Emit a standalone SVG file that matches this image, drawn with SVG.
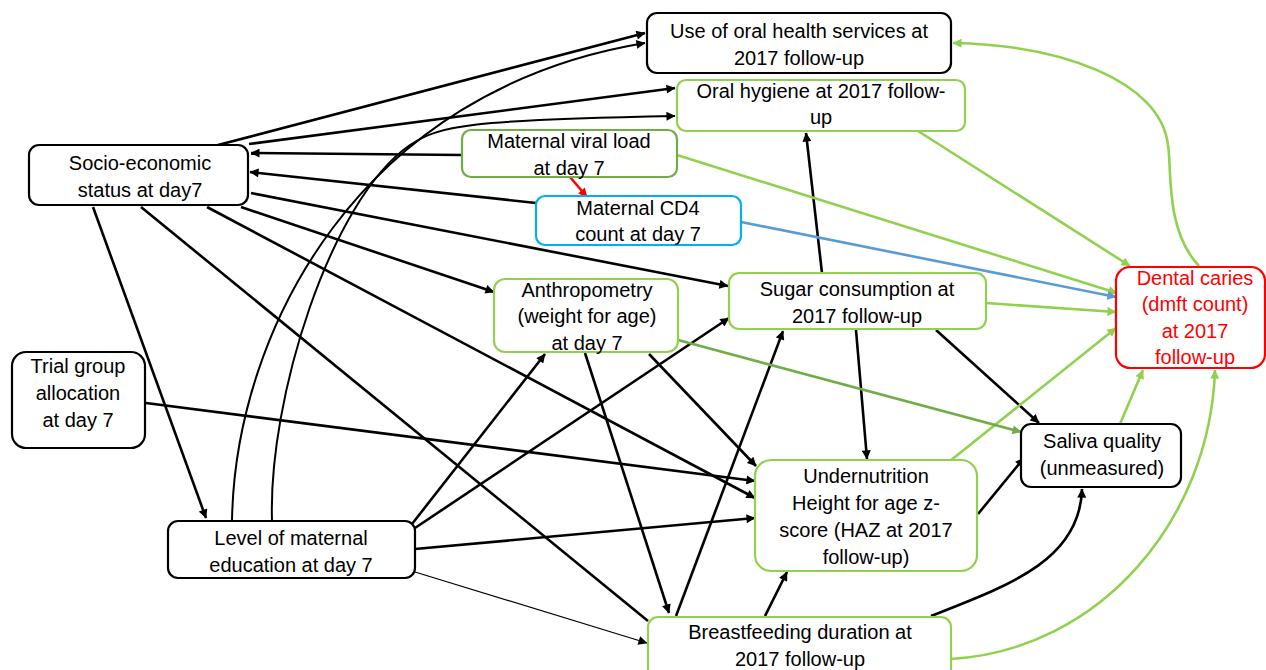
<svg xmlns="http://www.w3.org/2000/svg" width="1266" height="670" viewBox="0 0 1266 670">
<style>
.box{fill:#fff;stroke-width:2.2}
.k{stroke:#000}
.g{stroke:#92D050}
.gd{stroke:#70AD47}
.b{stroke:#00B0F0}
.r{stroke:#FF0000}
text{font-family:"Liberation Sans",Arial,sans-serif;font-size:20px;fill:#000;text-anchor:middle}
.red{fill:#FF0000}
.e{fill:none;stroke-width:2.6}
.ek{stroke:#000;marker-end:url(#ak)}
.eg{stroke:#92D050;marker-end:url(#ag)}
</style>
<defs>
<marker id="ak" viewBox="0 0 10 10" refX="9.5" refY="5" markerWidth="11" markerHeight="9" markerUnits="userSpaceOnUse" orient="auto"><path d="M0,0 L10,5 L0,10 z" fill="#000"/></marker>
<marker id="ag" viewBox="0 0 10 10" refX="9.5" refY="5" markerWidth="11" markerHeight="9" markerUnits="userSpaceOnUse" orient="auto"><path d="M0,0 L10,5 L0,10 z" fill="#92D050"/></marker>
<marker id="agd" viewBox="0 0 10 10" refX="9.5" refY="5" markerWidth="11" markerHeight="9" markerUnits="userSpaceOnUse" orient="auto"><path d="M0,0 L10,5 L0,10 z" fill="#70AD47"/></marker>
<marker id="ab" viewBox="0 0 10 10" refX="9.5" refY="5" markerWidth="11" markerHeight="9" markerUnits="userSpaceOnUse" orient="auto"><path d="M0,0 L10,5 L0,10 z" fill="#5B9BD5"/></marker>
<marker id="ar" viewBox="0 0 10 10" refX="9.5" refY="5" markerWidth="11" markerHeight="9" markerUnits="userSpaceOnUse" orient="auto"><path d="M0,0 L10,5 L0,10 z" fill="#FF0000"/></marker>
</defs>
<rect width="1266" height="670" fill="#fff"/>

<g id="connectors">
<path class="e ek" d="M218,145 L645,33"/>
<path class="e ek" d="M249,144 L675,88"/>
<path class="e ek" d="M232,521 C235,330 360,90 645,43" style="stroke-width:2"/>
<path class="e ek" d="M272,521 C268,400 330,200 410,145 C440,125 470,120 675,116" style="stroke-width:2"/>
<path class="e ek" d="M462,155 L251,153"/>
<path class="e ek" d="M536,203 L250,172"/>
<path class="e ek" d="M251,193 L728,286"/>
<path class="e ek" d="M241,207 L494,292"/>
<path class="e ek" d="M207,207 L755,498"/>
<path class="e" stroke="#000" d="M141,207 L648,621"/>
<path class="e ek" d="M93,207 L206,518"/>
<path class="e ek" d="M146,403 L755,481"/>
<path class="e ek" d="M415,549 L755,518"/>
<path class="e ek" d="M415,572 L647,643" style="stroke-width:1.2"/>
<path class="e ek" d="M412,524 L545,354"/>
<path class="e ek" d="M415,528 L729,318"/>
<path class="e ek" d="M585,353 L669,613"/>
<path class="e ek" d="M649,354 L756,466"/>
<path class="e ek" d="M676,616 L783,331"/>
<path class="e ek" d="M765,616 L787,572"/>
<path class="e ek" d="M931,616 C1010,585 1080,560 1082,489"/>
<path class="e ek" d="M822,273 L806,133"/>
<path class="e ek" d="M856,330 L867,459"/>
<path class="e ek" d="M936,330 L1039,423"/>
<path class="e ek" d="M978,514 L1024,458"/>

<path class="e eg" d="M918,131 L1130,266"/>
<path class="e eg" d="M677,155 L1117,293"/>
<path class="e eg" d="M986,303 L1116,312"/>
<path class="e eg" d="M950,461 L1116,328"/>
<path class="e eg" d="M1120,424 L1143,370"/>
<path class="e eg" d="M951,659 C1100,650 1210,520 1215,370"/>
<path class="e eg" d="M1199,266 C1165,230 1172,170 1168,145 C1160,80 1060,45 953,43"/>
<path class="e" stroke="#70AD47" marker-end="url(#agd)" d="M678,340 L1021,432"/>
<path class="e" stroke="#5B9BD5" marker-end="url(#ab)" d="M741,222 L1116,297"/>
<path class="e" stroke="#FF0000" marker-end="url(#ar)" d="M570,177 L587,197"/>
</g>

<g id="use">
<rect class="box k" x="647" y="13" width="304" height="60" rx="10"/>
<text x="799" y="38">Use of oral health services at</text>
<text x="799" y="65">2017 follow-up</text>
</g>
<g id="hygiene">
<rect class="box g" x="677" y="80" width="288" height="51" rx="9"/>
<text x="821" y="98">Oral hygiene at 2017 follow-</text>
<text x="821" y="124">up</text>
</g>
<g id="viral">
<rect class="box gd" x="462" y="130" width="215" height="47" rx="9"/>
<text x="569" y="148">Maternal viral load</text>
<text x="569" y="175">at day 7</text>
</g>
<g id="cd4">
<rect class="box b" x="536" y="196" width="205" height="49" rx="9"/>
<text x="638" y="215">Maternal CD4</text>
<text x="638" y="241">count at day 7</text>
</g>
<g id="ses">
<rect class="box k" x="29" y="145" width="219" height="60" rx="10"/>
<text x="140" y="170">Socio-economic</text>
<text x="140" y="197">status at day7</text>
</g>
<g id="anthro">
<rect class="box g" x="494" y="279" width="184" height="73" rx="11"/>
<text x="587" y="297">Anthropometry</text>
<text x="587" y="323">(weight for age)</text>
<text x="587" y="350">at day 7</text>
</g>
<g id="sugar">
<rect class="box g" x="729" y="273" width="257" height="56" rx="10"/>
<text x="857" y="296">Sugar consumption at</text>
<text x="857" y="323">2017 follow-up</text>
</g>
<g id="caries">
<rect class="box r" x="1116" y="267" width="149" height="101" rx="14"/>
<text class="red" x="1195" y="285">Dental caries</text>
<text class="red" x="1195" y="311">(dmft count)</text>
<text class="red" x="1195" y="338">at 2017</text>
<text class="red" x="1195" y="364">follow-up</text>
</g>
<g id="trial">
<rect class="box k" x="12" y="352" width="133" height="96" rx="14"/>
<text x="78" y="373">Trial group</text>
<text x="78" y="400">allocation</text>
<text x="78" y="427">at day 7</text>
</g>
<g id="saliva">
<rect class="box k" x="1021" y="424" width="160" height="63" rx="10"/>
<text x="1102" y="448">Saliva quality</text>
<text x="1102" y="475">(unmeasured)</text>
</g>
<g id="undernutrition">
<rect class="box g" x="755" y="460" width="222" height="111" rx="16"/>
<text x="866" y="483">Undernutrition</text>
<text x="866" y="510">Height for age z-</text>
<text x="866" y="537">score (HAZ at 2017</text>
<text x="866" y="564">follow-up)</text>
</g>
<g id="education">
<rect class="box k" x="168" y="521" width="247" height="57" rx="10"/>
<text x="291" y="545">Level of maternal</text>
<text x="291" y="572">education at day 7</text>
</g>
<g id="breastfeeding">
<rect class="box g" x="648" y="617" width="303" height="62" rx="10"/>
<text x="800" y="639">Breastfeeding duration at</text>
<text x="800" y="666">2017 follow-up</text>
</g>
</svg>
